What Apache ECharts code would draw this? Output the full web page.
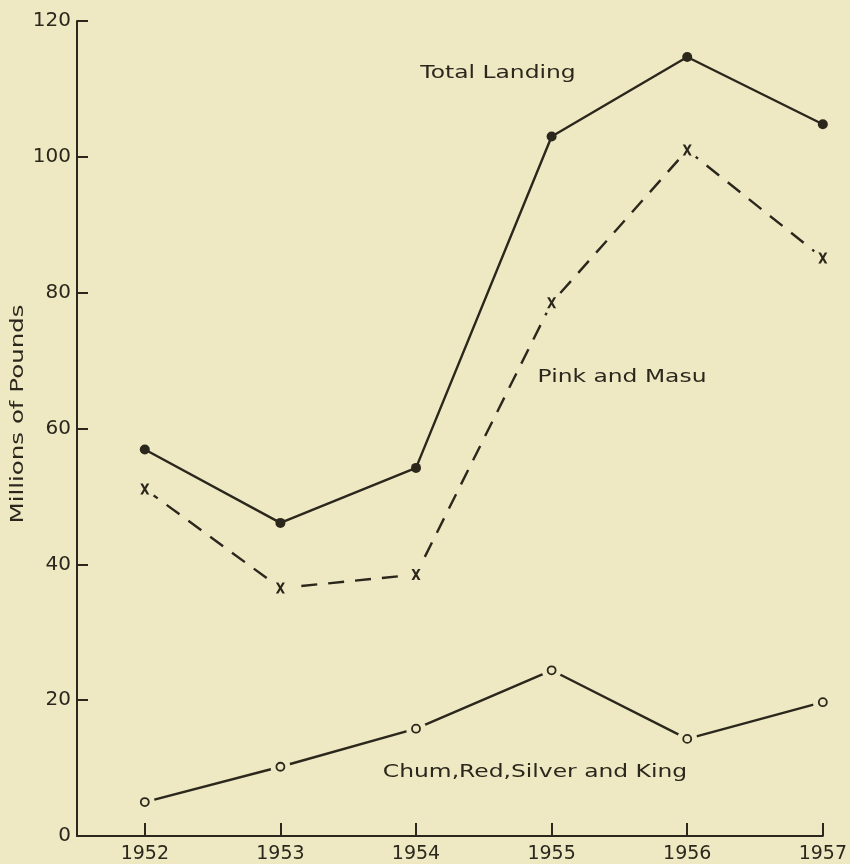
<!DOCTYPE html>
<html>
<head>
<meta charset="utf-8">
<script src="https://cdn.jsdelivr.net/npm/echarts@6/dist/echarts.min.js"></script>
<style>
html,body{margin:0;padding:0;background:#eee8c3;}
#chart{width:850px;height:864px;}
</style>
</head>
<body>
<div id="chart"></div>
<script>
const years = [1952, 1953, 1954, 1955, 1956, 1957];
const totalLanding = [56.9, 46.1, 54.2, 103.0, 114.7, 104.8];
const pinkMasu = [51.1, 36.5, 38.5, 78.5, 101.0, 85.1];
const chumRedSilverKing = [5.0, 10.2, 15.8, 24.4, 14.3, 19.7];
const yTicks = [0, 20, 40, 60, 80, 100, 120];
const yAxisTitle = 'Millions of Pounds';
const seriesNames = ['Total Landing', 'Pink and Masu', 'Chum,Red,Silver and King'];

const bg = '#eee8c3';
const ink = '#2b271c';
const font = 'DejaVu Sans';
const xSymbol = 'path://M0,0L2.8,0L5,3.2L7.2,0L10,0L6.5,5L10,10L7.2,10L5,6.8L2.8,10L0,10L3.5,5Z';

const pairs = arr => years.map((y, i) => [y, arr[i]]);

const textEl = (txt, x, y, rot, sx) => ({
  type: 'text', x: x, y: y, rotation: rot, scaleX: sx, scaleY: 1, silent: true,
  style: {text: txt, fill: ink, font: '18px "DejaVu Sans"', textAlign: 'center', textVerticalAlign: 'middle'}
});

const chart = echarts.init(document.getElementById('chart'));
chart.setOption({
  backgroundColor: bg,
  animation: false,
  grid: {left: 77, right: 27, top: 21, bottom: 27, containLabel: false},
  xAxis: {
    type: 'value', min: 1951.5, max: 1957,
    axisLine: {show: true, lineStyle: {color: ink, width: 2}},
    axisTick: {show: true, inside: true, length: 13, lineStyle: {color: ink, width: 2}, customValues: years},
    axisLabel: {show: true, customValues: years, color: ink, fontFamily: font, fontSize: 19, margin: 9, formatter: v => String(v)},
    splitLine: {show: false}
  },
  yAxis: {
    type: 'value', min: 0, max: 120, interval: 20,
    axisLine: {show: true, lineStyle: {color: ink, width: 2}},
    axisTick: {show: true, inside: true, length: 11, lineStyle: {color: ink, width: 2}},
    axisLabel: {color: ink, fontFamily: font, fontSize: 20, margin: 6},
    splitLine: {show: false}
  },
  graphic: [
    textEl(yAxisTitle, 18, 414, Math.PI / 2, 1.36),
    textEl(seriesNames[0], 498, 73, 0, 1.3),
    textEl(seriesNames[1], 622, 377, 0, 1.3),
    textEl(seriesNames[2], 535, 772, 0, 1.3)
  ],
  series: [
    {name: seriesNames[0], type: 'line', z: 2, data: pairs(totalLanding), symbol: 'circle', symbolSize: 10,
     itemStyle: {color: ink, opacity: 1}, lineStyle: {color: ink, width: 2.4}},
    {name: seriesNames[1], type: 'line', z: 2, data: pairs(pinkMasu), symbol: 'none',
     lineStyle: {color: ink, width: 2.4, type: [16, 11]}},
    {name: seriesNames[2], type: 'line', z: 2, data: pairs(chumRedSilverKing), symbol: 'none',
     lineStyle: {color: ink, width: 2.4}},
    {type: 'scatter', z: 3, silent: true, data: pairs(pinkMasu), symbol: 'circle', symbolSize: 22,
     itemStyle: {color: bg, opacity: 1}},
    {type: 'scatter', z: 3, silent: true, data: pairs(chumRedSilverKing), symbol: 'circle', symbolSize: 20,
     itemStyle: {color: bg, opacity: 1}},
    {type: 'scatter', z: 4, silent: true, data: pairs(pinkMasu), symbol: xSymbol, symbolSize: [9, 11],
     itemStyle: {color: ink, opacity: 1}},
    {type: 'scatter', z: 4, silent: true, data: pairs(chumRedSilverKing), symbol: 'circle', symbolSize: 8,
     itemStyle: {color: bg, borderColor: ink, borderWidth: 1.8, opacity: 1}}
  ]
});
</script>
</body>
</html>
